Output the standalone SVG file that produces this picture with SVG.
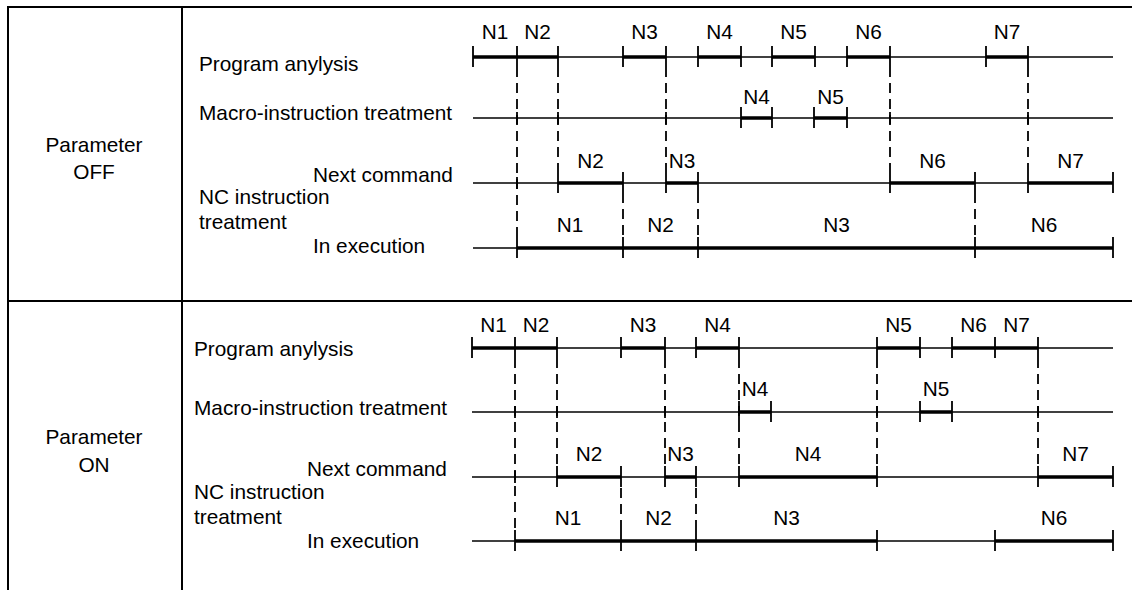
<svg xmlns="http://www.w3.org/2000/svg" width="1132" height="590" viewBox="0 0 1132 590">
  <style>
    text { font-family: "Liberation Sans", Arial, sans-serif; font-size: 20.8px; fill: #000; }
    .mid { text-anchor: middle; }
    .frame { stroke: #000; stroke-width: 2; fill: none; }
    .thin { stroke: #000; stroke-width: 1.3; fill: none; }
    .thick { stroke: #000; stroke-width: 3.4; fill: none; }
    .tick { stroke: #000; stroke-width: 1.8; fill: none; }
    .dash { stroke: #000; stroke-width: 1.8; fill: none; stroke-dasharray: 10 6; }
  </style>

  <!-- table frame -->
  <g id="frame">
    <line class="frame" x1="8" y1="7" x2="1132" y2="7"/>
    <line class="frame" x1="8" y1="301" x2="1132" y2="301"/>
    <line class="frame" x1="8" y1="6" x2="8" y2="590"/>
    <line class="frame" x1="182" y1="6" x2="182" y2="590"/>
  </g>

  <!-- ===== Parameter OFF ===== -->
  <g id="off-title">
    <text class="mid" x="94" y="152">Parameter</text>
    <text class="mid" x="94" y="179">OFF</text>
  </g>

  <g id="off-row-labels">
    <text x="199" y="71">Program anylysis</text>
    <text x="199" y="120">Macro-instruction treatment</text>
    <text x="313" y="182">Next command</text>
    <text x="199" y="204">NC instruction</text>
    <text x="199" y="229">treatment</text>
    <text x="313" y="253">In execution</text>
  </g>

  <g id="off-program">
    <line class="thin" x1="473" y1="57" x2="1113" y2="57"/>
    <path class="thick" d="M473 57H558M623 57H666M698 57H741M772 57H815M847 57H890M986 57H1028"/>
    <path class="tick" d="M473 46V67M517 46V67M558 46V67M623 46V67M666 46V67M698 46V67M741 46V67M772 46V67M815 46V67M847 46V67M890 46V67M986 46V67M1028 46V67"/>
    <text class="mid" x="495" y="39">N1</text>
    <text class="mid" x="537.5" y="39">N2</text>
    <text class="mid" x="644.5" y="39">N3</text>
    <text class="mid" x="719.5" y="39">N4</text>
    <text class="mid" x="793.5" y="39">N5</text>
    <text class="mid" x="868.5" y="39">N6</text>
    <text class="mid" x="1007" y="39">N7</text>
  </g>

  <g id="off-macro">
    <line class="thin" x1="473" y1="118" x2="1113" y2="118"/>
    <path class="thick" d="M741 118H772M814 118H847"/>
    <path class="tick" d="M741 107V128M772 107V128M814 107V128M847 107V128"/>
    <text class="mid" x="756.5" y="104">N4</text>
    <text class="mid" x="830.5" y="104">N5</text>
  </g>

  <g id="off-next">
    <line class="thin" x1="473" y1="183" x2="1113" y2="183"/>
    <path class="thick" d="M558 183H623M666 183H698M890 183H975M1028 183H1113"/>
    <path class="tick" d="M558 172V193M623 172V193M666 172V193M698 172V193M890 172V193M975 172V193M1028 172V193M1113 172V193"/>
    <text class="mid" x="590.5" y="168">N2</text>
    <text class="mid" x="682" y="168">N3</text>
    <text class="mid" x="932.5" y="168">N6</text>
    <text class="mid" x="1070.5" y="168">N7</text>
  </g>

  <g id="off-exec">
    <line class="thin" x1="473" y1="248" x2="1113" y2="248"/>
    <path class="thick" d="M517 248H1113"/>
    <path class="tick" d="M517 237V258M623 237V258M698 237V258M975 237V258M1113 237V258"/>
    <text class="mid" x="570" y="232">N1</text>
    <text class="mid" x="660.5" y="232">N2</text>
    <text class="mid" x="836.5" y="232">N3</text>
    <text class="mid" x="1044" y="232">N6</text>
  </g>

  <!-- dashed timing links, OFF -->
  <g id="off-connectors">
    <path class="dash" d="M517 67V237M558 67V172M666 67V172M890 67V172M1028 67V172M623 193V237M698 193V237M975 193V237"/>
    <path class="tick" d="M517 112V124M517 177V189M558 112V124M666 112V124M890 112V124M1028 112V124"/>
  </g>

  <!-- ===== Parameter ON ===== -->
  <g id="on-title">
    <text class="mid" x="94" y="444">Parameter</text>
    <text class="mid" x="94" y="472">ON</text>
  </g>

  <g id="on-row-labels">
    <text x="194" y="356">Program anylysis</text>
    <text x="194" y="415">Macro-instruction treatment</text>
    <text x="307" y="476">Next command</text>
    <text x="194" y="499">NC instruction</text>
    <text x="194" y="524">treatment</text>
    <text x="307" y="548">In execution</text>
  </g>

  <g id="on-program">
    <line class="thin" x1="472" y1="348" x2="1113" y2="348"/>
    <path class="thick" d="M472 348H557M621 348H665M696 348H739M877 348H920M952 348H1038"/>
    <path class="tick" d="M472 337V358M515 337V358M557 337V358M621 337V358M665 337V358M696 337V358M739 337V358M877 337V358M920 337V358M952 337V358M995 337V358M1038 337V358"/>
    <text class="mid" x="493.5" y="332">N1</text>
    <text class="mid" x="536" y="332">N2</text>
    <text class="mid" x="643" y="332">N3</text>
    <text class="mid" x="717.5" y="332">N4</text>
    <text class="mid" x="898.5" y="332">N5</text>
    <text class="mid" x="973.5" y="332">N6</text>
    <text class="mid" x="1016.5" y="332">N7</text>
  </g>

  <g id="on-macro">
    <line class="thin" x1="472" y1="412" x2="1113" y2="412"/>
    <path class="thick" d="M739 412H771M920 412H952"/>
    <path class="tick" d="M739 401V422M771 401V422M920 401V422M952 401V422"/>
    <text class="mid" x="755" y="396">N4</text>
    <text class="mid" x="936" y="396">N5</text>
  </g>

  <g id="on-next">
    <line class="thin" x1="472" y1="477" x2="1113" y2="477"/>
    <path class="thick" d="M557 477H621M665 477H696M739 477H877M1038 477H1113"/>
    <path class="tick" d="M557 466V487M621 466V487M665 466V487M696 466V487M739 466V487M877 466V487M1038 466V487M1113 466V487"/>
    <text class="mid" x="589" y="461">N2</text>
    <text class="mid" x="680.5" y="461">N3</text>
    <text class="mid" x="808" y="461">N4</text>
    <text class="mid" x="1075.5" y="461">N7</text>
  </g>

  <g id="on-exec">
    <line class="thin" x1="472" y1="541" x2="1113" y2="541"/>
    <path class="thick" d="M515 541H877M995 541H1113"/>
    <path class="tick" d="M515 530V551M621 530V551M696 530V551M877 530V551M995 530V551M1113 530V551"/>
    <text class="mid" x="568" y="525">N1</text>
    <text class="mid" x="658.5" y="525">N2</text>
    <text class="mid" x="786.5" y="525">N3</text>
    <text class="mid" x="1054" y="525">N6</text>
  </g>

  <!-- dashed timing links, ON -->
  <g id="on-connectors">
    <path class="dash" d="M515 358V530M557 358V466M665 358V466M739 358V466M877 358V466M1038 358V466M621 488V530M696 488V530"/>
    <path class="tick" d="M515 406V418M515 471V483M557 406V418M665 406V418M877 406V418M1038 406V418"/>
  </g>
</svg>
